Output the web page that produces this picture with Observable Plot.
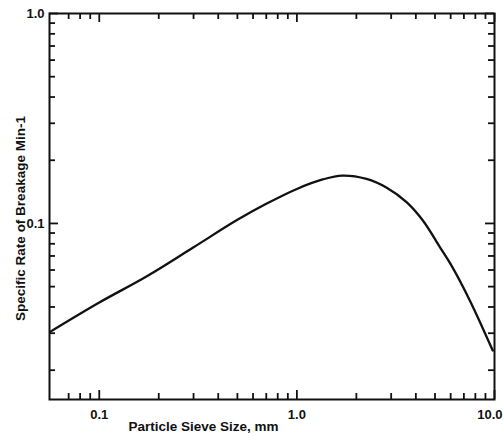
<!DOCTYPE html>
<html><head><meta charset="utf-8">
<script src="https://cdn.jsdelivr.net/npm/d3@7"></script>
<script src="https://cdn.jsdelivr.net/npm/@observablehq/plot@0.6"></script>
<style>body{margin:0;background:#fff}</style>
</head><body><div id="chart"></div>
<script>
// Curve (particle sieve size in mm, specific rate of breakage in 1/min)
const sizes = [0.0559, 0.1, 0.175, 0.3, 0.5, 0.7, 1.0, 1.35, 1.7, 2.25, 2.85, 3.6, 4.35, 5.3, 6.0, 7.5, 9.8];
const rates = [0.0303, 0.042, 0.0562, 0.077, 0.104, 0.124, 0.146, 0.162, 0.169, 0.163, 0.148, 0.126, 0.103, 0.077, 0.064, 0.043, 0.0248];

const xMajor = [0.1, 1, 10];
const xLabels = ["0.1", "1.0", "10.0"];
const xMinor = [0.07, 0.08, 0.09, 0.2, 0.3, 0.4, 0.5, 0.6, 0.7, 0.8, 0.9, 2, 3, 4, 5, 6, 7, 8, 9];
const yMajor = [0.1, 1];
const yLabels = ["0.1", "1.0"];
const yMinor = [0.02, 0.03, 0.04, 0.05, 0.06, 0.07, 0.08, 0.09, 0.2, 0.3, 0.4, 0.5, 0.6, 0.7, 0.8, 0.9];
const xTitle = "Particle Sieve Size, mm";
const yTitle = "Specific Rate of Breakage Min-1";

const W = 503, H = 436;
const mL = 49, mR = 9, mT = 13, mB = 37;
const iW = W - mL - mR, iH = H - mT - mB;
const xDom = [0.056, 10], yDom = [0.0145, 1];
const majorLen = 9, minorLen = 6;
const ink = "#111";

// tick length in pixels expressed as a ratio on each log scale
const fx = len => Math.pow(xDom[1] / xDom[0], len / iW);
const fy = len => Math.pow(yDom[1] / yDom[0], len / iH);

const curve = sizes.map((s, i) => ({size: s, rate: rates[i]}));

const tw = 1.8;
const bottomTicks = (vals, len) => Plot.ruleX(vals, {x: d => d, y1: yDom[0], y2: yDom[0] * fy(len), stroke: ink, strokeWidth: tw});
const topTicks = (vals, len) => Plot.ruleX(vals, {x: d => d, y1: yDom[1] / fy(len), y2: yDom[1], stroke: ink, strokeWidth: tw});
const leftTicks = (vals, len) => Plot.ruleY(vals, {y: d => d, x1: xDom[0], x2: xDom[0] * fx(len), stroke: ink, strokeWidth: tw});
const rightTicks = (vals, len) => Plot.ruleY(vals, {y: d => d, x1: xDom[1] / fx(len), x2: xDom[1], stroke: ink, strokeWidth: tw});

const chart = Plot.plot({
  width: W, height: H,
  marginLeft: mL, marginRight: mR, marginTop: mT, marginBottom: mB,
  style: {fontFamily: "'Liberation Sans', Arial, sans-serif", fontSize: "13px", fontWeight: "bold", color: ink, background: "#fff"},
  x: {type: "log", domain: xDom, axis: null},
  y: {type: "log", domain: yDom, axis: null},
  marks: [
    bottomTicks(xMajor, majorLen), bottomTicks(xMinor, minorLen),
    topTicks(xMajor, majorLen), topTicks(xMinor, minorLen),
    leftTicks(yMajor, majorLen), leftTicks(yMinor, minorLen),
    rightTicks(yMajor, majorLen), rightTicks(yMinor, minorLen),
    Plot.text(xMajor.slice(0, 2), {x: d => d, frameAnchor: "bottom", dy: 19, text: d => xLabels[xMajor.indexOf(d)],
      fontSize: 13, fontWeight: "bold", fill: ink}),
    Plot.text(xMajor.slice(2), {x: d => d, frameAnchor: "bottom", dy: 19, dx: 8, text: d => xLabels[xMajor.indexOf(d)],
      textAnchor: "end", fontSize: 13, fontWeight: "bold", fill: ink}),
    Plot.text(yMajor, {y: d => d, frameAnchor: "left", dx: -5, text: d => yLabels[yMajor.indexOf(d)],
      textAnchor: "end", fontSize: 13, fontWeight: "bold", fill: ink}),
    Plot.frame({stroke: ink, strokeWidth: 2}),
    Plot.line(curve, {x: "size", y: "rate", curve: "catmull-rom", stroke: ink, strokeWidth: 2.3, clip: true}),
    Plot.text([xTitle], {frameAnchor: "bottom", dx: 203 - (mL + iW / 2), dy: 31, fontSize: 13.5, fontWeight: "bold", fill: ink}),
    Plot.text([yTitle], {frameAnchor: "left", rotate: -90, textAnchor: "middle", dx: 20 - mL, dy: 218 - (mT + iH / 2), fontSize: 13.5, fontWeight: "bold", fill: ink})
  ]
});
document.getElementById("chart").appendChild(chart);
</script>
</body></html>
